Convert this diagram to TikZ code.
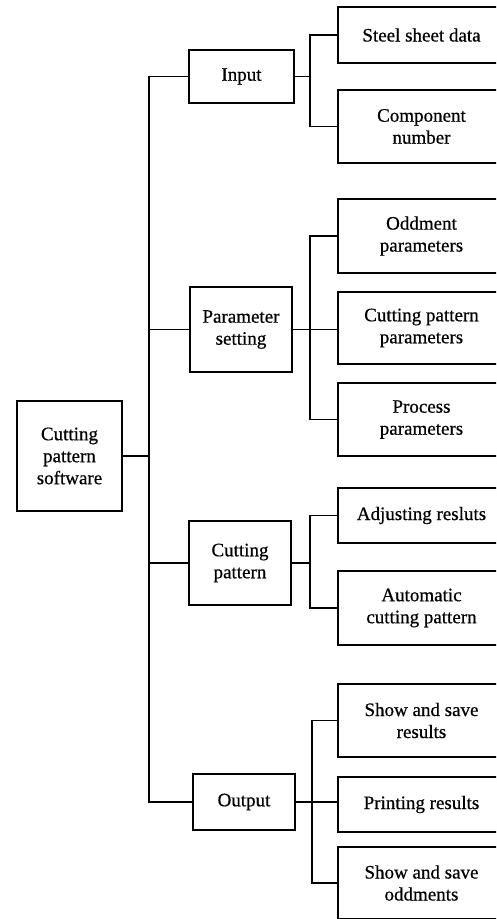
\documentclass[tikz,border=0pt]{standalone}
\usepackage{fontspec}
\setmainfont{Liberation Serif}[FakeBold=0.6]
\begin{document}
\begin{tikzpicture}[x=1pt,y=-1pt,
  box/.style={draw,line width=1.8pt,inner sep=0pt,align=center,
    font=\fontsize{19}{22}\selectfont},
  leaf/.style={box,minimum width=167pt},
  link/.style={line width=1.8pt}]
\useasboundingbox (0,0) rectangle (496,919);
\clip (0,0) rectangle (496,919);
% main and level-1 boxes
\node[box,minimum width=105pt,minimum height=110pt] (main) at (69.5,456) {Cutting\\pattern\\software};
\node[box,minimum width=105pt,minimum height=53pt] (input) at (241.5,76.5) {Input};
\node[box,minimum width=102pt,minimum height=85pt] (param) at (241,329.5) {Parameter\\setting};
\node[box,minimum width=102pt,minimum height=84pt] (cutpat) at (240,563) {Cutting\\pattern};
\node[box,minimum width=102pt,minimum height=56pt] (output) at (244,802) {Output};
% leaves
\node[leaf,minimum height=56pt] (steel) at (421.5,35) {Steel sheet data};
\node[leaf,minimum height=73pt] (comp) at (421.5,126.5) {Component\\number};
\node[leaf,minimum height=74pt] (odd) at (421.5,236) {Oddment\\parameters};
\node[leaf,minimum height=72pt] (cpp) at (421.5,328) {Cutting pattern\\parameters};
\node[leaf,minimum height=73pt] (proc) at (421.5,419.5) {Process\\parameters};
\node[leaf,minimum height=55pt] (adj) at (421.5,515.5) {Adjusting resluts};
\node[leaf,minimum height=74pt] (auto) at (421.5,608) {Automatic\\cutting pattern};
\node[leaf,minimum height=73pt] (shres) at (421.5,720.5) {Show and save\\results};
\node[leaf,minimum height=55pt] (print) at (421.5,804.5) {Printing results};
\node[leaf,minimum height=72pt] (shodd) at (421.5,883) {Show and save\\oddments};
% junction columns
\coordinate (tx) at (149,0);
\coordinate (jx) at (310,0);
\coordinate (jo) at (312,0);
% trunk
\draw[link] (main.east) -- (main.east -| tx);
\draw[link] (input.west) -- (input.west -| tx) -- (output.west -| tx) -- (output.west);
\draw[link] (param.west) -- (param.west -| tx);
\draw[link] (cutpat.west) -- (cutpat.west -| tx);
% input branch
\draw[link] (input.east) -- (input.east -| jx);
\draw[link] (steel.west) -- (steel.west -| jx) -- (comp.west -| jx) -- (comp.west);
% parameter branch
\draw[link] (param.east) -- (param.east -| cpp.west);
\draw[link] (odd.west) -- (odd.west -| jx) -- (proc.west -| jx) -- (proc.west);
% cutting pattern branch
\draw[link] (cutpat.east) -- (cutpat.east -| jx);
\draw[link] (adj.west) -- (adj.west -| jx) -- (auto.west -| jx) -- (auto.west);
% output branch
\draw[link] (output.east) -- (output.east -| print.west);
\draw[link] (shres.west) -- (shres.west -| jo) -- (shodd.west -| jo) -- (shodd.west);
\end{tikzpicture}
\end{document}
